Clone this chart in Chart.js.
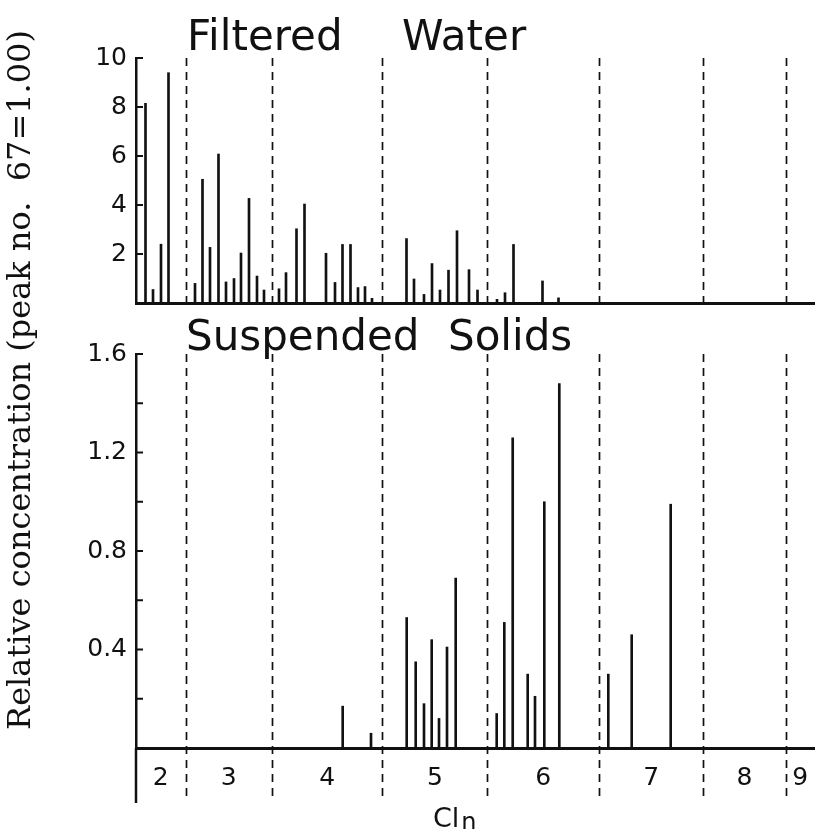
<!DOCTYPE html>
<html>
<head>
<meta charset="utf-8">
<script src="https://cdn.jsdelivr.net/npm/chart.js@4.4.0/dist/chart.umd.min.js"></script>
<style>
  html, body { margin: 0; padding: 0; background: #fff; }
  #wrap { position: relative; width: 815px; height: 829px; }
  .panel { position: absolute; left: 0; top: 0; width: 815px; height: 829px; }
</style>
</head>
<body>
<div id="wrap">
  <div class="panel"><canvas id="waterChart"></canvas></div>
  <div class="panel"><canvas id="solidsChart"></canvas></div>
</div>
<script>
// Chlorine-number groups along the retention axis and the boundaries between them
const chlorineGroups = ['2', '3', '4', '5', '6', '7', '8', '9'];
const groupBoundaries = [4.95, 13.58, 24.65, 35.12, 46.3, 56.73, 64.95];
const retentionMax = 67.9;

// Filtered water: retention position of each peak and its relative concentration
const waterPeakPos = [0.95, 1.7, 2.5, 3.25, 5.9, 6.65, 7.4, 8.25, 9.0, 9.8, 10.5, 11.3, 12.1, 12.8,
  14.3, 15.0, 16.05, 16.85, 19.0, 19.9, 20.65, 21.45, 22.2, 22.9, 23.6,
  27.05, 27.8, 28.8, 29.6, 30.4, 31.25, 32.1, 33.3, 34.15,
  36.1, 36.9, 37.75, 40.65, 42.25];
const waterPeakConc = [8.15, 0.55, 2.4, 9.4, 0.8, 5.05, 2.27, 6.08, 0.86, 1.0, 2.04, 4.27, 1.1, 0.53,
  0.58, 1.24, 3.03, 4.04, 2.03, 0.84, 2.39, 2.39, 0.63, 0.67, 0.19,
  2.63, 0.98, 0.35, 1.61, 0.53, 1.34, 2.95, 1.36, 0.53,
  0.15, 0.42, 2.39, 0.9, 0.21];
const waterTickLabels = ['2', '4', '6', '8', '10'];

// Suspended solids
const solidsPeakPos = [20.67, 23.5, 27.07, 27.97, 28.8, 29.57, 30.3, 31.1, 31.97,
  36.07, 36.83, 37.67, 39.17, 39.9, 40.83, 42.33, 47.23, 49.57, 53.47];
const solidsPeakConc = [0.17, 0.06, 0.53, 0.35, 0.18, 0.44, 0.12, 0.41, 0.69,
  0.14, 0.51, 1.26, 0.30, 0.21, 1.00, 1.48, 0.30, 0.46, 0.99];
const solidsTickLabels = ['0.4', '0.8', '1.2', '1.6'];

const ink = '#111';
const sans = '"DejaVu Sans", sans-serif';
const serif = '"DejaVu Serif", serif';

// Dashed group dividers, inward y ticks, panel title and shared axis captions
const panelDecor = {
  id: 'panelDecor',
  afterDatasetsDraw(chart, args, opts) {
    const { ctx, chartArea: a, scales: { x, y } } = chart;
    ctx.save();
    ctx.strokeStyle = ink;
    ctx.lineWidth = 1.7;
    ctx.setLineDash([8, 6]);
    groupBoundaries.forEach(b => {
      const px = Math.round(x.getPixelForValue(b)) + 0.5;
      ctx.beginPath();
      ctx.moveTo(px, a.top);
      ctx.lineTo(px, a.bottom + opts.dividerExtend);
      ctx.stroke();
    });
    ctx.setLineDash([]);
    ctx.lineWidth = 2;
    y.ticks.forEach(t => {
      if (t.value <= 0) return;
      const py = y.getPixelForValue(t.value);
      ctx.beginPath();
      ctx.moveTo(a.left, py);
      ctx.lineTo(a.left + 7, py);
      ctx.stroke();
    });
    if (opts.axisExtend) {
      ctx.lineWidth = 2.5;
      ctx.beginPath();
      ctx.moveTo(a.left, a.bottom);
      ctx.lineTo(a.left, a.bottom + opts.axisExtend);
      ctx.stroke();
    }
    ctx.fillStyle = ink;
    ctx.textBaseline = 'alphabetic';
    ctx.textAlign = 'left';
    ctx.font = '42px ' + sans;
    opts.title.forEach(([word, px]) => ctx.fillText(word, px, opts.titleBaseline));
    if (opts.captions) {
      ctx.font = '27px ' + sans;
      ctx.fillText('Cl', 433, 827);
      const w = ctx.measureText('Cl').width;
      ctx.font = '24px ' + sans;
      ctx.fillText('n', 433 + w + 2, 830);
      ctx.save();
      ctx.translate(22, 380);
      ctx.rotate(-Math.PI / 2);
      ctx.font = '32px ' + serif;
      ctx.textAlign = 'center';
      ctx.textBaseline = 'middle';
      ctx.fillText('Relative concentration (peak no.  67=1.00)', 0, 0);
      ctx.restore();
    }
    ctx.restore();
  }
};

function peaks(pos, conc) {
  return pos.map((p, i) => ({ x: p, y: conc[i] }));
}

function panel(canvasId, cfg) {
  return new Chart(document.getElementById(canvasId), {
    type: 'bar',
    data: {
      datasets: [{
        data: peaks(cfg.pos, cfg.conc),
        backgroundColor: ink,
        borderWidth: 0,
        barThickness: 2,
        grouped: false
      }]
    },
    options: {
      responsive: true,
      maintainAspectRatio: false,
      animation: false,
      events: [],
      layout: { padding: cfg.padding },
      plugins: {
        legend: { display: false },
        tooltip: { enabled: false },
        panelDecor: cfg.decor
      },
      scales: {
        x: cfg.xScale,
        y: {
          type: 'linear',
          min: 0,
          max: cfg.yMax,
          ticks: {
            stepSize: cfg.yStep,
            color: ink,
            padding: 9,
            font: { family: sans, size: 25 },
            callback: cfg.yLabel
          },
          grid: { display: false, drawTicks: false },
          border: { display: true, color: ink, width: 2.5 },
          afterFit(s) { s.width = 136; s.paddingTop = 0; s.paddingBottom = 0; }
        }
      }
    },
    plugins: [panelDecor]
  });
}

panel('waterChart', {
  pos: waterPeakPos,
  conc: waterPeakConc,
  yMax: 10,
  yStep: 2,
  yLabel: v => waterTickLabels.includes(String(v)) ? String(v) : '',
  padding: { top: 58, bottom: 526, left: 0, right: 0 },
  xScale: {
    type: 'linear', min: 0, max: retentionMax, offset: false,
    ticks: { display: false },
    grid: { display: false, drawTicks: false, offset: false },
    border: { display: true, color: ink, width: 3 },
    afterFit(s) { s.height = 0; s.paddingLeft = 0; s.paddingRight = 0; }
  },
  decor: { dividerExtend: 0, title: [['Filtered', 187], ['Water', 402]], titleBaseline: 50 }
});

panel('solidsChart', {
  pos: solidsPeakPos,
  conc: solidsPeakConc,
  yMax: 1.6,
  yStep: 0.2,
  yLabel: v => { const s = v.toFixed(1); return solidsTickLabels.includes(s) ? s : ''; },
  padding: { top: 354, bottom: 0, left: 0, right: 0 },
  xScale: {
    type: 'linear', min: 0, max: retentionMax, offset: false,
    afterBuildTicks(s) {
      const edges = [0, ...groupBoundaries, retentionMax];
      s.ticks = chlorineGroups.map((g, i) => ({ value: (edges[i] + edges[i + 1]) / 2 }));
    },
    ticks: {
      autoSkip: false, maxRotation: 0, color: ink, padding: 15,
      font: { family: sans, size: 25 },
      callback: (v, i) => chlorineGroups[i]
    },
    grid: { display: false, drawTicks: false, offset: false },
    border: { display: true, color: ink, width: 3 },
    afterFit(s) { s.height = 81; s.paddingLeft = 0; s.paddingRight = 0; }
  },
  decor: { dividerExtend: 52, axisExtend: 55, title: [['Suspended', 186], ['Solids', 448]], titleBaseline: 350, captions: true }
});
</script>
</body>
</html>
